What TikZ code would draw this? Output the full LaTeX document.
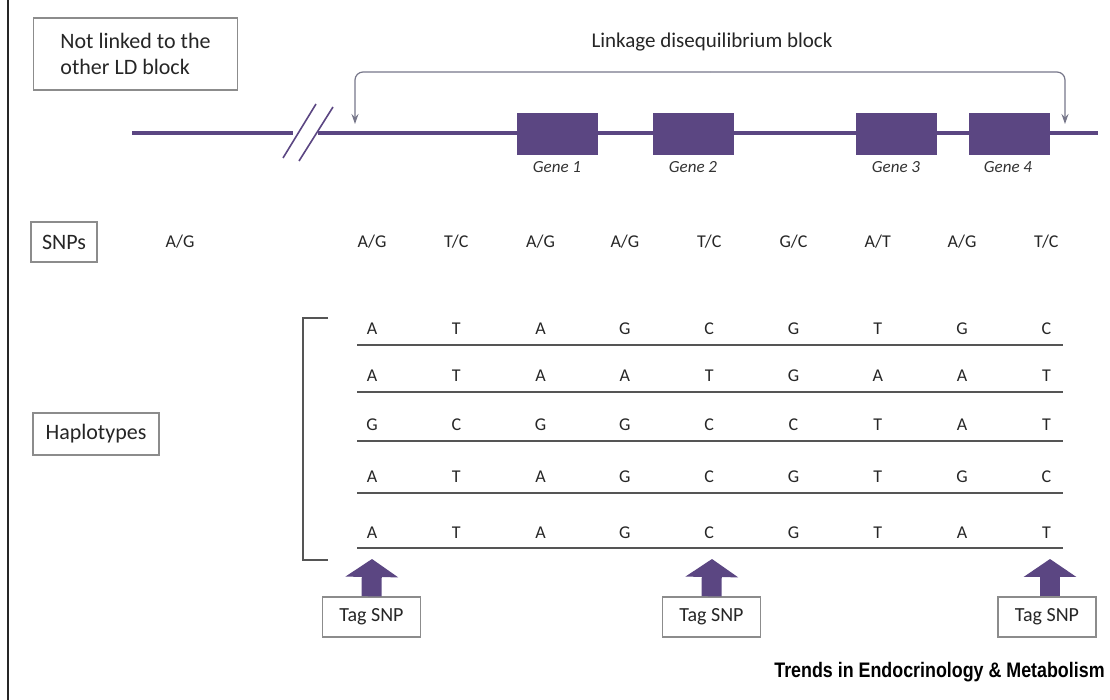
\documentclass[tikz,border=0pt]{standalone}
\usepackage{fontspec}
\setmainfont{Carlito}
\newfontfamily\trendsfont{Liberation Sans}
\usetikzlibrary{arrows.meta}
\definecolor{chrom}{HTML}{5B4682}
\definecolor{boxline}{HTML}{8C8C8C}
\definecolor{hapline}{HTML}{555555}
\definecolor{ldline}{HTML}{77778A}

\begin{document}
\begin{tikzpicture}[x=0.5pt, y=-0.5pt]

    \tikzstyle{label} = [rectangle, draw=boxline, line width=0.7pt, fill=white, font=\fontsize{11}{13}\selectfont, text=black!85]
    \tikzstyle{gene} = [rectangle, fill=chrom, minimum width=40.5pt, minimum height=21pt, inner sep=0pt]
    \tikzstyle{genename} = [font=\fontsize{8.5}{10}\itshape, text=black!80]
    \tikzstyle{snp} = [font=\fontsize{9}{10}\selectfont, text=black!85]
    \tikzstyle{tag} = [label, font=\fontsize{10}{12}\selectfont, minimum width=49pt, minimum height=20pt, inner sep=1pt]
    \tikzstyle{tagarrow} = [chrom, line width=10pt, -{Triangle[width=26pt, length=9pt]}]
    \tikzstyle{ldarrow} = [ldline, line width=0.6pt, rounded corners=4pt, -{Stealth[length=5pt, width=3.5pt]}]

    \useasboundingbox (0,0) rectangle (1110,700);

    % frame line on the left
    \draw[black!85, line width=1.3pt] (8,0) -- (8,700);

    \node[label, align=left, minimum width=102pt, minimum height=36pt, inner sep=4pt] (other) at (135.5,54) {Not linked to the\\other LD block};

    % chromosome with break
    \draw[chrom, line width=1.9pt] (132,133) -- (293,133);
    \draw[chrom, line width=1.9pt] (318,133) -- (1098,133);
    \draw[chrom, line width=0.8pt] (283,158) -- (316,104);
    \draw[chrom, line width=0.8pt] (299,161) -- (333,107);

    \node[gene] (g1) at (557.5,134) {};
    \node[gene] (g2) at (693.5,134) {};
    \node[gene] (g3) at (896.5,134) {};
    \node[gene] (g4) at (1009,134) {};
    \node[genename] (g1n) at (557,167) {Gene 1};
    \node[genename] (g2n) at (693,167) {Gene 2};
    \node[genename] (g3n) at (896,167) {Gene 3};
    \node[genename] (g4n) at (1008,167) {Gene 4};

    % linkage disequilibrium block
    \node[font=\fontsize{10.5}{12}\selectfont, text=black!85] (ld) at (712,42) {Linkage disequilibrium block};
    \coordinate (ldl) at (355,124);
    \coordinate (ldr) at (1065,124);
    \draw[ldarrow] (710,72) -| (ldl);
    \draw[ldarrow] (710,72) -| (ldr);

    % SNPs
    \node[label, minimum width=33pt, minimum height=20pt, inner sep=2pt] (snps) at (64,242) {SNPs};
    \node[snp] (s0) at (180,242) {A/G};
    \foreach \a [count=\i] in {A/G,T/C,A/G,A/G,T/C,G/C,A/T,A/G,T/C}
        \node[snp] (s\i) at ({372+84.3*(\i-1)},242) {\a};

    % haplotypes
    \node[label, minimum width=63pt, minimum height=21pt, inner sep=2pt] (haplo) at (96,434) {Haplotypes};
    \draw[hapline, line width=1.2pt] (328,318) -- (303,318) -- (303,560) -- (328,560);
    \foreach \row/\ly/\ty [count=\r] in {
        {A,T,A,G,C,G,T,G,C}/345/329,
        {A,T,A,A,T,G,A,A,T}/392/376,
        {G,C,G,G,C,C,T,A,T}/441/425,
        {A,T,A,G,C,G,T,G,C}/493/477,
        {A,T,A,G,C,G,T,A,T}/548/533}{
        \draw[hapline, line width=1.1pt] (357,\ly) -- (1063,\ly);
        \foreach \b [count=\c] in \row
            \node[snp] (h\r-\c) at ({372+84.3*(\c-1)},\ty) {\b};
    }

    % tag SNPs
    \node[tag] (tag1) at (371.5,617) {Tag SNP};
    \node[tag] (tag2) at (711.5,617) {Tag SNP};
    \node[tag] (tag3) at (1047,617) {Tag SNP};
    \coordinate (t1) at (372,559);
    \coordinate (t2) at (712,559);
    \coordinate (t3) at (1050,559);
    \draw[tagarrow] (tag1.north) -- (t1);
    \draw[tagarrow] (tag2.north) -- (t2);
    \draw[tagarrow] ([xshift=1.5pt]tag3.north) -- (t3);

    \node[font=\trendsfont\bfseries\fontsize{10.5}{12}\selectfont, anchor=east, inner sep=0pt] (journal) at (1105,672) {\scalebox{0.85}[1]{Trends in Endocrinology \& Metabolism}};

\end{tikzpicture}
\end{document}
